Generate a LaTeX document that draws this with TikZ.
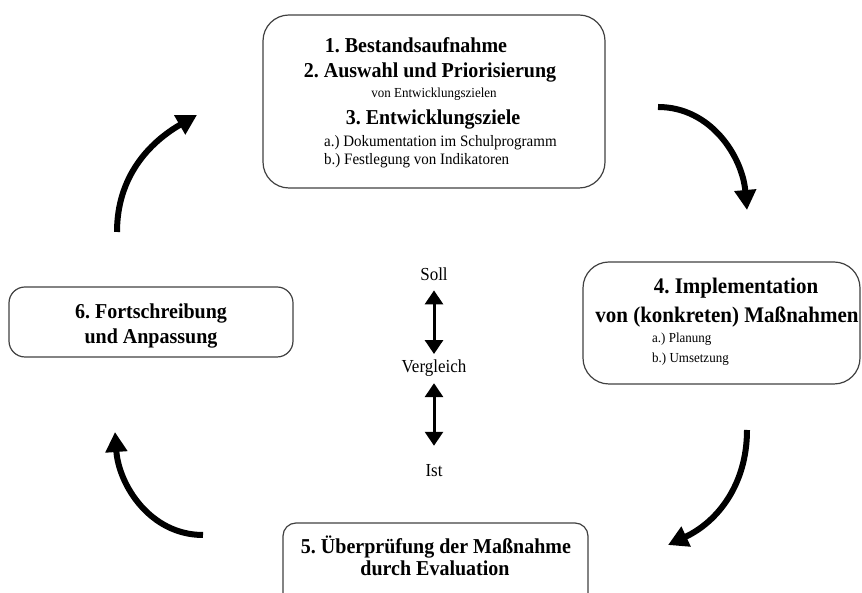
\documentclass[tikz,border=0pt]{standalone}
\usepackage{fontspec}
\setmainfont{Liberation Serif}
\usetikzlibrary{arrows.meta,positioning}

\begin{document}
\frenchspacing
\begin{tikzpicture}[x=1pt,y=1pt,
  stage/.style={draw=black!75,line width=1.2pt,inner sep=0pt},
  headline/.style={inner sep=0pt,anchor=base,yscale=1.06,font=\fontsize{20}{24}\selectfont\bfseries},
  subline/.style={inner sep=0pt,anchor=base,yscale=1.06,font=\fontsize{13}{15}\selectfont},
  item/.style={inner sep=0pt,anchor=base west,yscale=1.06,font=\fontsize{15}{18}\selectfont},
  middle/.style={inner sep=0pt,anchor=base,yscale=1.08,font=\fontsize{17}{20}\selectfont},
  cycle/.style={line width=6pt,-{Triangle[length=20pt,width=21pt]}},
  compare/.style={line width=3pt,{Triangle[length=14pt,width=18pt]}-{Triangle[length=14pt,width=18pt]}}]

  \clip (0,0) rectangle (862,593);

  % Box 1: Bestandsaufnahme bis Entwicklungsziele
  \node[stage,rounded corners=26pt,minimum width=342pt,minimum height=173pt]
    (ziele) at (434,491.5) {};
  \node[headline] (ziele1) at (416,540) {1. Bestandsaufnahme};
  \node[headline] (ziele2) at (430,515) {2. Auswahl und Priorisierung};
  \node[subline] (ziele2a) at (434,495) {von Entwicklungszielen};
  \node[headline] (ziele3) at (433,468) {3. Entwicklungsziele};
  \node[item] (ziele3a) at (324,446) {a.) Dokumentation im Schulprogramm};
  \node[item] (ziele3b) at (324,428) {b.) Festlegung von Indikatoren};

  % Box 4: Implementation
  \node[stage,rounded corners=26pt,minimum width=277pt,minimum height=122pt]
    (impl) at (721.5,270) {};
  \node[headline,font=\fontsize{21}{25}\selectfont\bfseries] (impl1) at (736,299) {4. Implementation};
  \node[headline,font=\fontsize{21}{25}\selectfont\bfseries] (impl2) at (727,270) {von (konkreten) Maßnahmen};
  \node[item,font=\fontsize{13}{15}\selectfont] (impla) at (652,250) {a.) Planung};
  \node[item,font=\fontsize{13}{15}\selectfont] (implb) at (652,230) {b.) Umsetzung};

  % Box 5: Evaluation
  \node[stage,rounded corners=13pt,minimum width=305pt,minimum height=87pt]
    (eval) at (435.5,26.5) {};
  \node[headline] (eval1) at (436,39) {5. Überprüfung der Maßnahme};
  \node[headline] (eval2) at (435,17) {durch Evaluation};

  % Box 6: Fortschreibung
  \node[stage,rounded corners=16pt,minimum width=284pt,minimum height=70pt]
    (fort) at (151,271) {};
  \node[headline] (fort1) at (151,274) {6. Fortschreibung};
  \node[headline] (fort2) at (151,249) {und Anpassung};

  % Soll-Ist-Vergleich
  \node[middle] (soll) at (434,312) {Soll};
  \node[middle] (vgl) at (434,220) {Vergleich};
  \node[middle] (ist) at (434,116) {Ist};
  \draw[compare,shorten <=9pt,shorten >=6pt] (soll.south) -- (vgl.north);
  \draw[compare,shorten <=6pt,shorten >=19pt] (vgl.south) -- (ist.north);

  % Kreislauf
  \coordinate (fortout) at (117,361);
  \coordinate (zielein) at (197,478);
  \coordinate (zieleout) at (658,486);
  \coordinate (implin) at (747,383);
  \coordinate (implout) at (747,163);
  \coordinate (evalin) at (668,48);
  \coordinate (evalout) at (203,58);
  \coordinate (fortin) at (115,161);
  \draw[cycle] (fortout) to[out=90,in=210] (zielein);
  \draw[cycle] (zieleout) to[out=0,in=95] (implin);
  \draw[cycle] (implout) to[out=270,in=25] (evalin);
  \draw[cycle] (evalout) to[out=180,in=274] (fortin);

\end{tikzpicture}
\end{document}
